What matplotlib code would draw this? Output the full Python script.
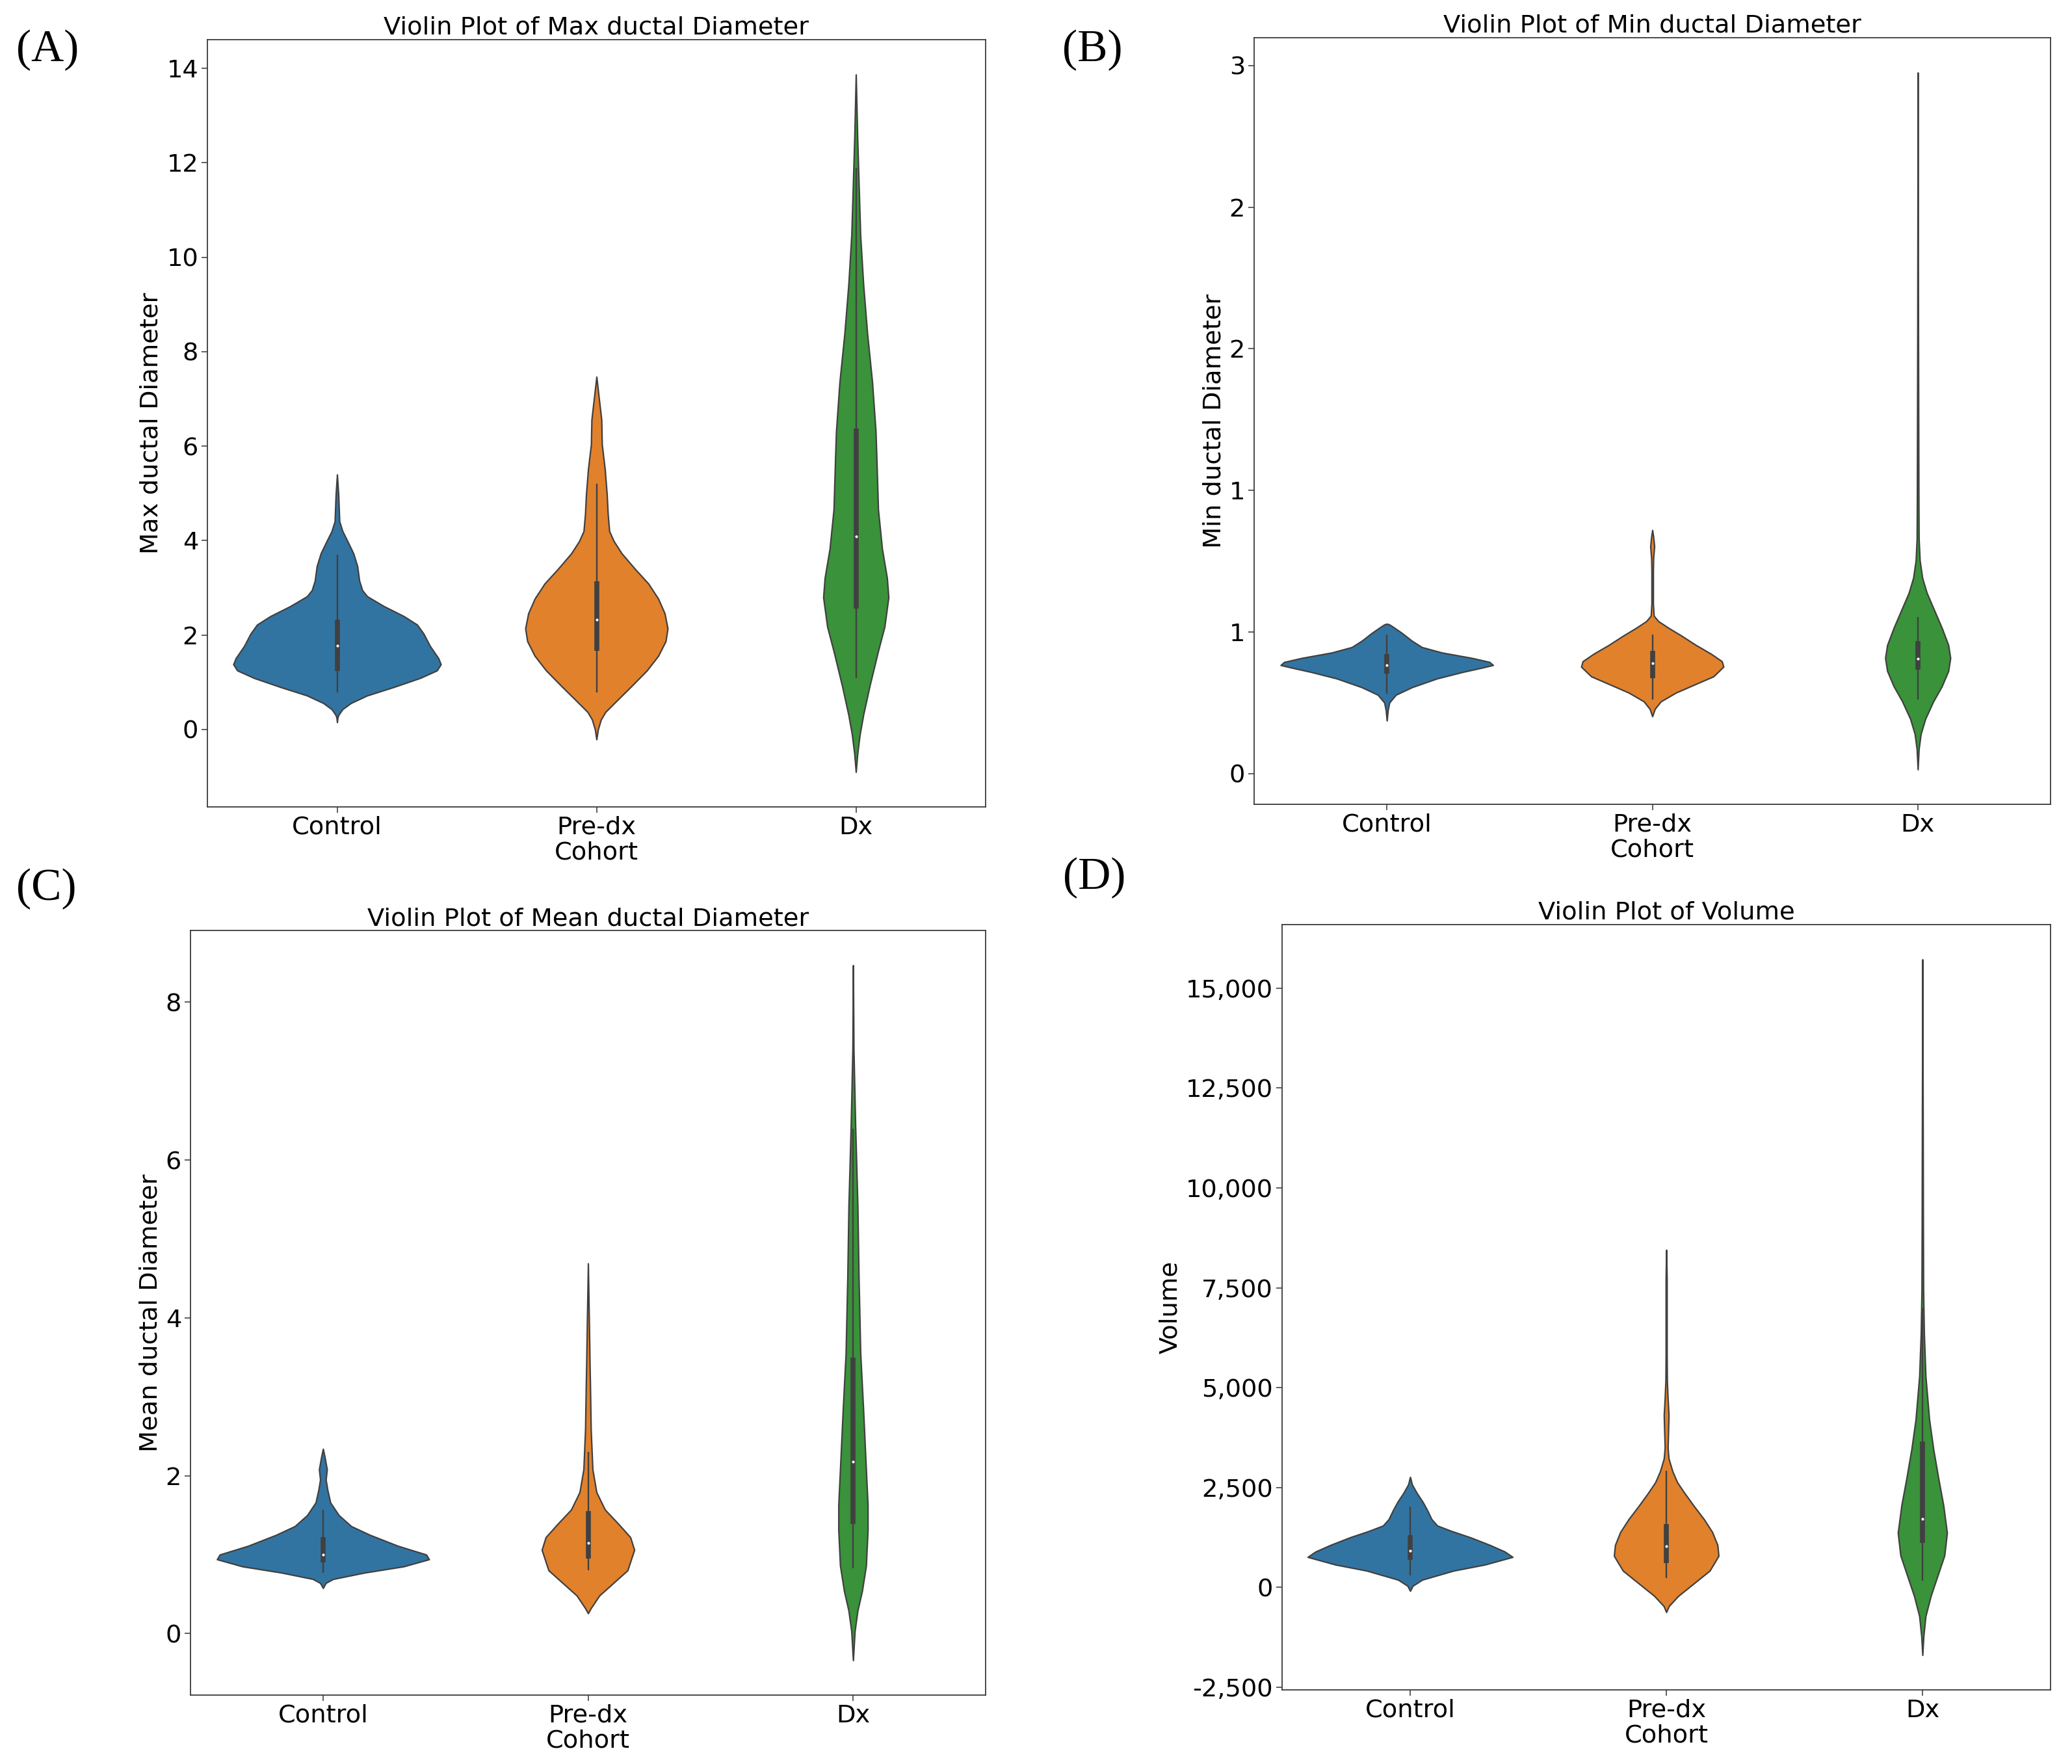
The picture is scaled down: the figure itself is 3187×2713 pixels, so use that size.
import numpy as np
import matplotlib
matplotlib.use("Agg")
import matplotlib.pyplot as plt
from matplotlib.ticker import FuncFormatter, MultipleLocator, FixedLocator

# ---------------- data ----------------
categories = ["Control", "Pre-dx", "Dx"]
colors = ["#3274a1", "#e1812c", "#3a923a"]

# Panel A : Max ductal Diameter  (y values, relative density)
max_ctrl_y = [0.155, 0.25, 0.31, 0.43, 0.56, 0.72, 0.90, 1.09, 1.25, 1.38, 1.51, 1.77, 2.03, 2.22, 2.40, 2.61, 2.82, 2.95, 3.15, 3.46, 3.73, 3.99, 4.20, 4.41, 4.97, 5.40]
max_ctrl_d = [0, 1, 3, 11, 28, 61, 115, 168, 202, 210, 205, 188, 175, 162, 135, 95, 61, 51, 45, 41, 33, 21, 11, 4.7, 2.7, 0]
max_pre_y = [-0.21, 0.0, 0.21, 0.37, 0.61, 0.92, 1.25, 1.56, 1.87, 2.14, 2.46, 2.77, 3.09, 3.40, 3.73, 3.99, 4.20, 4.56, 4.98, 5.51, 6.04, 6.56, 7.04, 7.47]
max_pre_d = [0, 3, 9, 18, 41, 71, 102, 125, 140, 144, 138, 125, 105, 78, 51, 35, 26, 23, 21, 17, 11, 10, 4.7, 0]
max_dx_y = [-0.90, -0.52, -0.10, 0.31, 0.93, 1.66, 2.18, 2.80, 3.21, 3.83, 4.66, 5.70, 6.32, 7.36, 8.39, 9.43, 10.47, 11.50, 12.54, 13.87]
max_dx_d = [0, 3, 8, 15, 28, 45, 58, 66, 63, 53, 45, 42, 40, 33, 23, 15, 9, 6, 3, 0]
# box stats: whisker low, q1, median, q3, whisker high
max_ctrl_box = [0.78, 1.24, 1.78, 2.33, 3.71]
max_pre_box = [0.78, 1.66, 2.33, 3.14, 5.20]
max_dx_box = [1.09, 2.56, 4.09, 6.37, 11.9]

# Panel B : Min ductal Diameter
min_ctrl_y = [0.225, 0.269, 0.301, 0.334, 0.366, 0.403, 0.430, 0.449, 0.460, 0.473, 0.490, 0.513, 0.536, 0.563, 0.596, 0.618, 0.632, 0.635]
min_ctrl_d = [0, 2, 5, 18, 50, 100, 150, 190, 212, 205, 170, 110, 70, 50, 30, 15, 5, 0]
min_pre_y = [0.243, 0.274, 0.306, 0.343, 0.380, 0.412, 0.453, 0.476, 0.508, 0.545, 0.586, 0.618, 0.646, 0.669, 0.720, 0.857, 0.913, 0.963, 1.004, 1.032]
min_pre_d = [0, 5, 17, 47, 87, 122, 142, 139, 117, 87, 57, 32, 12, 3, 1.5, 1.5, 2, 4, 2, 0]
min_dx_y = [0.018, 0.104, 0.168, 0.232, 0.306, 0.370, 0.435, 0.490, 0.545, 0.618, 0.692, 0.766, 0.830, 0.904, 0.995, 1.153, 1.88, 2.97]
min_dx_d = [0, 2, 6, 15, 31, 48, 61, 65, 61, 48, 33, 18, 9, 4, 2, 1.6, 0.8, 0]
min_ctrl_box = [0.338, 0.423, 0.459, 0.507, 0.590]
min_pre_box = [0.313, 0.406, 0.468, 0.520, 0.589]
min_dx_box = [0.315, 0.440, 0.488, 0.563, 0.664]
min_ticks = [0.0, 0.6, 1.2, 1.8, 2.4, 3.0]

# Panel C : Mean ductal Diameter
mean_ctrl_y = [0.576, 0.64, 0.69, 0.77, 0.85, 0.94, 1.00, 1.11, 1.25, 1.36, 1.50, 1.66, 1.82, 1.95, 2.08, 2.24, 2.34]
mean_ctrl_d = [0, 5, 18, 73, 143, 188, 183, 133, 83, 50, 28, 13, 8, 5, 7, 3, 0]
mean_pre_y = [0.256, 0.32, 0.48, 0.64, 0.80, 1.06, 1.22, 1.38, 1.57, 1.79, 2.08, 2.59, 3.04, 3.42, 3.87, 4.69]
mean_pre_d = [0, 5, 20, 45, 70, 82, 75, 55, 30, 15, 8, 5, 4, 3, 2, 0]
mean_dx_y = [-0.34, 0.03, 0.29, 0.54, 0.86, 1.31, 1.63, 2.08, 2.85, 3.55, 4.51, 5.41, 6.43, 7.39, 8.47]
mean_dx_d = [0, 3, 8, 16, 23, 26, 26, 23, 18, 13, 10, 8, 4, 1, 0]
mean_ctrl_box = [0.77, 0.90, 1.00, 1.22, 1.57]
mean_pre_box = [0.80, 0.95, 1.15, 1.55, 2.30]
mean_dx_box = [0.83, 1.39, 2.18, 3.50, 6.4]

# Panel D : Volume
vol_ctrl_y = [-89, 38, 190, 417, 569, 760, 895, 1057, 1247, 1410, 1545, 1707, 1925, 2141, 2358, 2572, 2764]
vol_ctrl_d = [0, 5, 23, 83, 143, 196, 181, 153, 116, 79, 52, 41, 33, 24, 13, 3.7, 0]
vol_pre_y = [-620, -468, -215, 101, 417, 787, 1057, 1383, 1707, 2033, 2358, 2630, 2900, 3225, 3495, 3875, 4307, 4742, 5175, 5855, 7752, 8448]
vol_pre_d = [0, 5, 23, 53, 83, 100, 98, 88, 72, 53, 35, 21, 12, 4.6, 2.8, 3.7, 4.6, 2.8, 1.4, 1, 1, 0]
vol_dx_y = [-1695, -1227, -721, -215, 291, 797, 1366, 2061, 2694, 3452, 4200, 5283, 6367, 7448, 9017, 11546, 15719]
vol_dx_d = [0, 2, 6, 16, 29, 42, 47, 40, 31, 21, 13, 6, 3, 1.6, 1.2, 0.8, 0]
vol_ctrl_box = [291, 696, 911, 1303, 2023]
vol_pre_box = [228, 607, 1024, 1581, 2921]
vol_dx_box = [164, 1113, 1720, 3650, 6980]

panels = [
    dict(label="(A)", title="Violin Plot of Max ductal Diameter", ylabel="Max ductal Diameter",
         ys=[max_ctrl_y, max_pre_y, max_dx_y], ds=[max_ctrl_d, max_pre_d, max_dx_d],
         boxes=[max_ctrl_box, max_pre_box, max_dx_box]),
    dict(label="(B)", title="Violin Plot of Min ductal Diameter", ylabel="Min ductal Diameter",
         ys=[min_ctrl_y, min_pre_y, min_dx_y], ds=[min_ctrl_d, min_pre_d, min_dx_d],
         boxes=[min_ctrl_box, min_pre_box, min_dx_box]),
    dict(label="(C)", title="Violin Plot of Mean ductal Diameter", ylabel="Mean ductal Diameter",
         ys=[mean_ctrl_y, mean_pre_y, mean_dx_y], ds=[mean_ctrl_d, mean_pre_d, mean_dx_d],
         boxes=[mean_ctrl_box, mean_pre_box, mean_dx_box]),
    dict(label="(D)", title="Violin Plot of Volume", ylabel="Volume",
         ys=[vol_ctrl_y, vol_pre_y, vol_dx_y], ds=[vol_ctrl_d, vol_pre_d, vol_dx_d],
         boxes=[vol_ctrl_box, vol_pre_box, vol_dx_box]),
]

# ---------------- layout ----------------
W, H = 3187, 2713
fig = plt.figure(figsize=(W / 100, H / 100), dpi=100)
fig.patch.set_facecolor("white")

axes_px = [(319, 61, 1516, 1241), (1929, 58, 3154, 1237),
           (293, 1431, 1516, 2607), (1972, 1422, 3154, 2599)]
label_px = [(73, 77), (1680, 77), (71, 1367), (1683, 1350)]

FS = 27.6
EDGE = "#404040"
fmt = FuncFormatter(lambda v, p: "{:,.0f}".format(v))

for k, (pn, (x0, y0, x1, y1)) in enumerate(zip(panels, axes_px)):
    ax = fig.add_axes([x0 / W, 1 - y1 / H, (x1 - x0) / W, (y1 - y0) / H])
    dmax = max(max(d) for d in pn["ds"])
    for i, (y, d, box, c) in enumerate(zip(pn["ys"], pn["ds"], pn["boxes"], colors)):
        hw = np.asarray(d, float) * 0.4 / dmax
        ax.fill_betweenx(y, i - hw, i + hw, facecolor=c, edgecolor=EDGE,
                         linewidth=1.6, joinstyle="round", zorder=2)
        lo, q1, med, q3, hi = box
        ax.vlines(i, lo, hi, color=EDGE, linewidth=1.7, zorder=3)
        ax.vlines(i, q1, q3, color=EDGE, linewidth=5.5, zorder=3)
        ax.scatter([i], [med], s=9, color="white", zorder=4, linewidths=0)
    ax.set_xlim(-0.5, 2.5)
    ax.set_xticks(range(len(categories)))
    ax.set_xticklabels(categories)
    ax.set_xlabel("Cohort", fontsize=FS, labelpad=2)
    ax.set_ylabel(pn["ylabel"], fontsize=FS)
    ax.set_title(pn["title"], fontsize=FS, pad=1)
    if k == 0 or k == 2:
        ax.yaxis.set_major_locator(MultipleLocator(2))
    elif k == 1:
        ax.yaxis.set_major_locator(FixedLocator(min_ticks))
    else:
        ax.yaxis.set_major_locator(MultipleLocator(2500))
    ax.yaxis.set_major_formatter(fmt)
    ax.tick_params(labelsize=FS, length=6.5, width=1.1, color="#333333")
    for s in ax.spines.values():
        s.set_linewidth(1.3)
        s.set_color("#3a3a3a")
    lx, ly = label_px[k]
    fig.text(lx / W, 1 - ly / H, pn["label"], ha="center", va="center",
             fontsize=50, family=["Liberation Serif", "DejaVu Serif"])

fig.savefig("out.png", dpi=100, facecolor="white")
